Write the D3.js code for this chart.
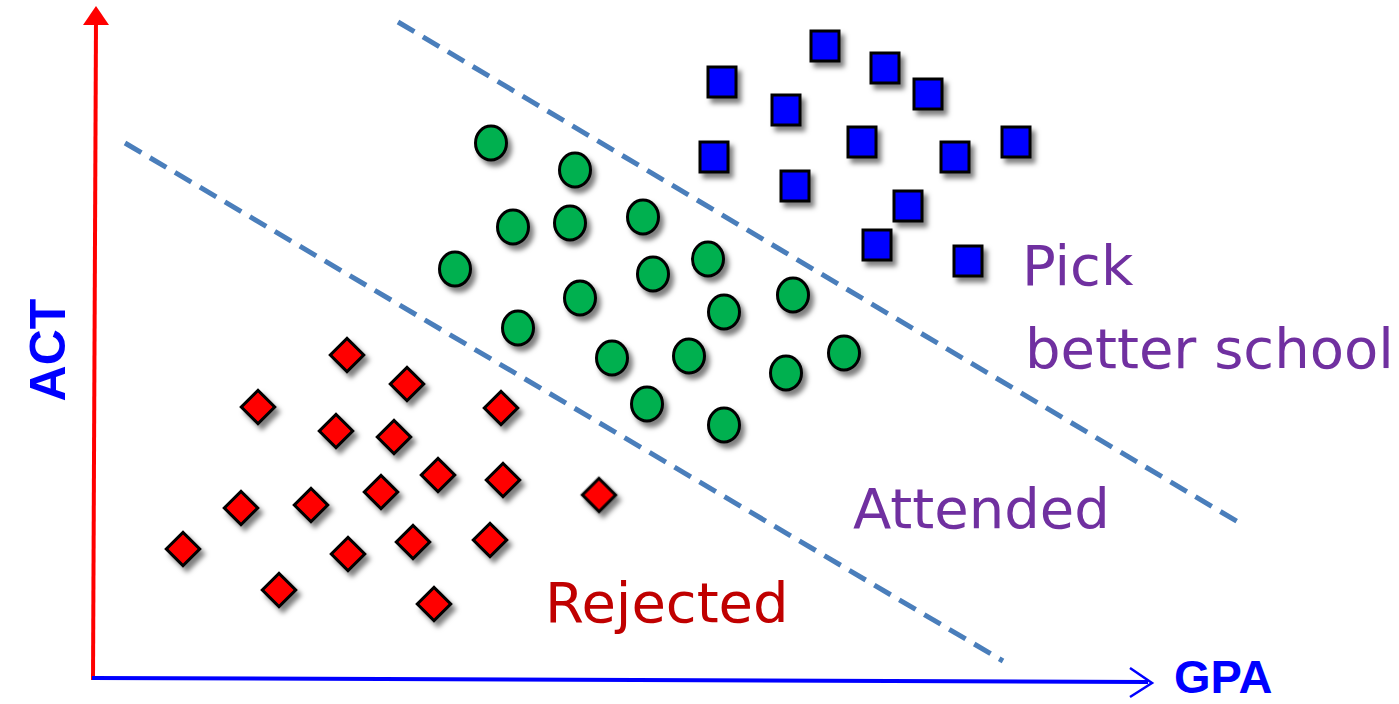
<!DOCTYPE html>
<html>
<head>
<meta charset="utf-8">
<script src="https://cdn.jsdelivr.net/npm/d3@7"></script>
<style>
  body { margin: 0; background: #fff; }
  svg { display: block; }
</style>
</head>
<body>
<svg id="chart"></svg>
<script>
// values in plot units measured from the origin (GPA right, ACT up)
const picked = [[732,632],[792,610],[629,596],[835,584],[693,568],[769,536],[621,521],[862,521],[923,536],[702,492],[815,472],[784,433],[875,417]];
const attended = [[398,535],[482,508],[420,451],[477,455],[550,461],[362,409],[560,404],[615,419],[487,380],[631,366],[700,383],[425,350],[519,320],[596,322],[693,305],[751,325],[554,274],[631,253]];
const rejected = [[254,323],[314,294],[165,271],[408,270],[243,247],[301,241],[345,203],[410,198],[288,186],[148,170],[218,173],[506,183],[90,129],[255,124],[320,136],[397,138],[186,88],[341,74]];
const boundaries = [
    { from: [32, 535], to: [910, 17] },
    { from: [305, 656], to: [1145, 156] }
];
const labels = [
    { text: "Rejected", at: [452, 56], color: "#c00000" },
    { text: "Attended", at: [760, 150], color: "#7030a0" },
    { text: "Pick", at: [929, 393], color: "#7030a0" },
    { text: "better school", at: [932, 310], color: "#7030a0" }
];

const width = 1399, height = 704;
const origin = { x: 93, y: 678 };

const svg = d3.select("#chart").attr("width", width).attr("height", height);

const x = d3.scaleLinear().domain([0, 1057]).range([origin.x, origin.x + 1057]);
const y = d3.scaleLinear().domain([0, 668]).range([origin.y, origin.y - 668]);

const defs = svg.append("defs");
const shadow = defs.append("filter").attr("id", "shadow")
    .attr("x", "-50%").attr("y", "-50%").attr("width", "200%").attr("height", "200%");
shadow.append("feDropShadow")
    .attr("dx", 4).attr("dy", 5).attr("stdDeviation", 2.5)
    .attr("flood-color", "#000").attr("flood-opacity", 0.5);

// dashed boundaries
svg.append("g").selectAll("line")
    .data(boundaries)
    .join("line")
    .attr("x1", d => x(d.from[0])).attr("y1", d => y(d.from[1]))
    .attr("x2", d => x(d.to[0])).attr("y2", d => y(d.to[1]))
    .attr("stroke", "#4a7ebb")
    .attr("stroke-width", 5)
    .attr("stroke-dasharray", "19 10");

// axes
const axes = svg.append("g");
axes.append("line")
    .attr("x1", origin.x).attr("y1", origin.y + 2)
    .attr("x2", origin.x + 3).attr("y2", 20)
    .attr("stroke", "#ff0000").attr("stroke-width", 4);
axes.append("path")
    .attr("d", `M${origin.x + 3},6 L${origin.x - 10},25 L${origin.x + 16},25 Z`)
    .attr("fill", "#ff0000");
axes.append("line")
    .attr("x1", origin.x - 1).attr("y1", origin.y)
    .attr("x2", 1148).attr("y2", origin.y + 4)
    .attr("stroke", "#0000ff").attr("stroke-width", 4);
axes.append("path")
    .attr("d", `M1130,668 L1152,683 L1130,697`)
    .attr("fill", "none").attr("stroke", "#0000ff").attr("stroke-width", 2.5);

axes.append("text")
    .attr("transform", `translate(65, 350) rotate(-90)`)
    .attr("text-anchor", "middle")
    .attr("font-family", "Liberation Sans, Arial, sans-serif")
    .attr("font-weight", "bold")
    .attr("font-size", 50)
    .attr("fill", "#0000ff")
    .text("ACT");
axes.append("text")
    .attr("x", 1174).attr("y", 693)
    .attr("font-family", "Liberation Sans, Arial, sans-serif")
    .attr("font-weight", "bold")
    .attr("font-size", 47)
    .attr("fill", "#0000ff")
    .text("GPA");

// marks
const marks = svg.append("g").attr("filter", "url(#shadow)");

marks.append("g").selectAll("path")
    .data(rejected)
    .join("path")
    .attr("transform", d => `translate(${x(d[0])},${y(d[1])}) rotate(45)`)
    .attr("d", d3.symbol(d3.symbolSquare, 560))
    .attr("fill", "#ff0000").attr("stroke", "#000").attr("stroke-width", 3);

marks.append("g").selectAll("ellipse")
    .data(attended)
    .join("ellipse")
    .attr("cx", d => x(d[0])).attr("cy", d => y(d[1]))
    .attr("rx", 15.5).attr("ry", 17)
    .attr("fill", "#00b050").attr("stroke", "#000").attr("stroke-width", 3);

marks.append("g").selectAll("rect")
    .data(picked)
    .join("rect")
    .attr("x", d => x(d[0]) - 14).attr("y", d => y(d[1]) - 15)
    .attr("width", 28).attr("height", 30)
    .attr("fill", "#0000ff").attr("stroke", "#000").attr("stroke-width", 3);

// region labels
svg.append("g").selectAll("text")
    .data(labels)
    .join("text")
    .attr("x", d => x(d.at[0])).attr("y", d => y(d.at[1]))
    .attr("font-family", "'Comic Sans MS', 'DejaVu Sans', sans-serif")
    .attr("font-size", 56)
    .attr("fill", d => d.color)
    .text(d => d.text);
</script>
</body>
</html>
